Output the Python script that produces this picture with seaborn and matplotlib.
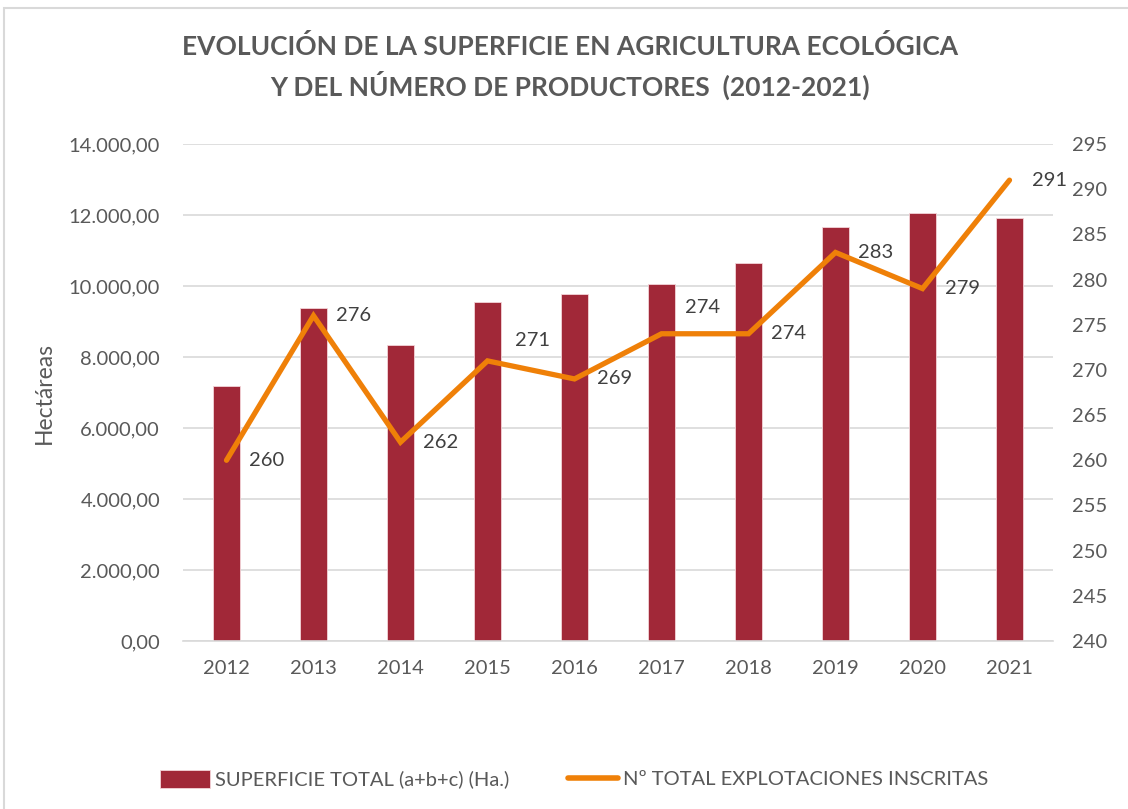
import matplotlib
matplotlib.use("Agg")
import matplotlib.pyplot as plt
import seaborn as sns
import numpy as np
import pandas as pd
from matplotlib.patches import Patch, Rectangle
from matplotlib.lines import Line2D
from matplotlib.ticker import FuncFormatter, MultipleLocator

years = ["2012", "2013", "2014", "2015", "2016", "2017", "2018", "2019", "2020", "2021"]
superficie = [7190, 9370, 8330, 9545, 9770, 10050, 10640, 11660, 12060, 11910]
explotaciones = [260, 276, 262, 271, 269, 274, 274, 283, 279, 291]

bar_label = "SUPERFICIE TOTAL (a+b+c) (Ha.)"
line_label = "Nº TOTAL EXPLOTACIONES INSCRITAS"
title = "EVOLUCIÓN DE LA SUPERFICIE EN AGRICULTURA ECOLÓGICA\nY DEL NÚMERO DE PRODUCTORES  (2012-2021)"

# label offsets (points): style only
label_offsets = [(16, 0), (16, 0), (16, 0), (20, 15), (16, 0), (17, 19), (16, 0), (16, 0), (16, 0), (16, 0)]

sns.set_theme(style="white")
plt.rcParams["font.family"] = ["Lato", "DejaVu Sans"]

BAR = "#A12838"
ORANGE = "#EF8008"
GRAY = "#595959"
GRID = "#D9D9D9"

fig = plt.figure(figsize=(11.28, 8.09), dpi=100)
ax = fig.add_axes([183/1128, 1 - 641/809, 870/1128, 497/809])

df = pd.DataFrame({"year": years, "sup": superficie, "n": explotaciones})
sns.barplot(data=df, x="year", y="sup", color=BAR, saturation=1, width=0.314,
            edgecolor="#F3D4D8", linewidth=0.6, ax=ax)
ax.set_xlim(-0.5, len(years) - 0.5)
ax.set_ylim(0, 14000)
ax.yaxis.set_major_locator(MultipleLocator(2000))
ax.yaxis.set_major_formatter(FuncFormatter(
    lambda v, p: f"{v:,.2f}".replace(",", "X").replace(".", ",").replace("X", ".")))
ax.grid(axis="y", color=GRID, linewidth=1.2)
ax.set_axisbelow(True)
for s in ["left", "right", "top"]:
    ax.spines[s].set_visible(False)
ax.spines["bottom"].set_color(GRID)
ax.spines["bottom"].set_linewidth(1.2)
ax.tick_params(axis="both", length=0, labelsize=14.5, labelcolor=GRAY)
ax.tick_params(axis="y", pad=16.5)
ax.tick_params(axis="x", pad=14)
ax.set_xlabel("")
ax.set_ylabel("Hectáreas", fontsize=16.5, color=GRAY, labelpad=10)

ax2 = ax.twinx()
xpos = np.arange(len(years))
sns.lineplot(x=xpos, y=explotaciones, color=ORANGE, linewidth=3.8, ax=ax2,
             solid_joinstyle="miter", solid_capstyle="round")
ax2.set_ylim(240, 295)
ax2.yaxis.set_major_locator(MultipleLocator(5))
ax2.tick_params(axis="y", length=0, labelsize=14.5, labelcolor=GRAY, pad=14)
for s in ax2.spines.values():
    s.set_visible(False)
ax2.grid(False)
ax2.set_ylabel("")

for xi, v, off in zip(xpos, explotaciones, label_offsets):
    ax2.annotate(str(v), (xi, v), xytext=off, textcoords="offset points",
                 ha="left", va="center", fontsize=14.5, color="#404040")

fig.text(570/1128, 1 - 67/809, title, ha="center", va="center", fontsize=19,
         fontweight="bold", color=GRAY, linespacing=1.5)

handles = [Patch(facecolor=BAR, edgecolor="#F3D4D8", linewidth=0.6),
           Line2D([0], [0], color=ORANGE, linewidth=4)]
fig.legend(handles, [bar_label, line_label], loc="center", bbox_to_anchor=(574/1128, 1 - 779/809),
           ncol=2, frameon=False, fontsize=14.5, labelcolor=GRAY, handlelength=2.5,
           handleheight=1.0, columnspacing=2.9, handletextpad=0.25)

fig.patches.append(Rectangle((4/1128, -0.05), 1.2, 1.05 - 8/809, transform=fig.transFigure,
                             fill=False, edgecolor=GRID, linewidth=1.5))

fig.savefig("out.png", dpi=100)
